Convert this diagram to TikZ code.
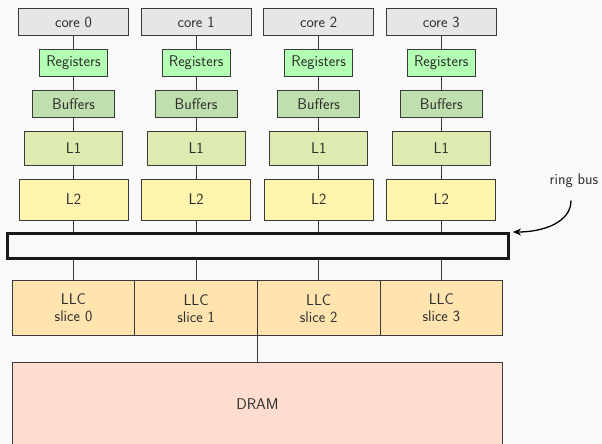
\documentclass[tikz,border=0pt]{standalone}
\usepackage{fontspec}
\usetikzlibrary{arrows.meta}
\definecolor{bg}{HTML}{F9F9F9}
\definecolor{edge}{HTML}{3A3A3A}
\definecolor{ink}{HTML}{2E2E2E}
\definecolor{coreC}{HTML}{E6E6E6}
\definecolor{regC}{HTML}{B3FFB3}
\definecolor{bufC}{HTML}{C0DFAE}
\definecolor{loneC}{HTML}{DDEAB0}
\definecolor{ltwoC}{HTML}{FFF5AE}
\definecolor{llcC}{HTML}{FFE4B0}
\definecolor{dramC}{HTML}{FFDDCE}
\begin{document}
\begin{tikzpicture}[x=1pt,y=-1pt,
  box/.style={draw=edge, line width=0.8pt, inner sep=0pt, text=ink,
    font=\sffamily\fontsize{15.5}{17}\selectfont, align=center},
  link/.style={draw=edge, line width=0.8pt},
  lbl/.style={text=ink, font=\sffamily\fontsize{15.5}{17}\selectfont}]
\useasboundingbox (0,0) rectangle (602,444);
\fill[bg] (0,0) rectangle (602,444);

% ring bus shared by all cores
\node[draw=black!90, line width=3pt, minimum width=501pt, minimum height=25pt, inner sep=0pt] (ring) at (258,246) {};

% main memory
\node[box, fill=dramC, minimum width=490.7pt, minimum height=83pt] (dram) at (257.4,404) {DRAM};

% one column per core, with its LLC slice below the ring
\foreach \i in {0,1,2,3} {
  \pgfmathsetmacro{\cx}{73.5+122.6*\i}
  \node[box, fill=coreC, minimum width=110pt, minimum height=27.5pt] (core\i) at (\cx,22) {core \i};
  \node[box, fill=regC, minimum width=68pt, minimum height=27.5pt] (reg\i) at (\cx,63) {Registers};
  \node[box, fill=bufC, minimum width=82pt, minimum height=27.5pt] (buf\i) at (\cx,104) {Buffers};
  \node[box, fill=loneC, minimum width=98pt, minimum height=34pt] (lone\i) at (\cx,148) {L1};
  \node[box, fill=ltwoC, minimum width=109pt, minimum height=41pt] (ltwo\i) at (\cx,199.5) {L2};
  \node[box, fill=llcC, minimum width=122.6pt, minimum height=55pt] (llc\i) at (\cx,308.2) {LLC\\slice \i};
  \draw[link] (core\i) -- (reg\i);
  \draw[link] (reg\i) -- (buf\i);
  \draw[link] (buf\i) -- (lone\i);
  \draw[link] (lone\i) -- (ltwo\i);
  \draw[link] (ltwo\i.south) -- (ltwo\i.south |- ring.north);
  \draw[link] (llc\i.north |- ring.south) -- (llc\i.north);
}

% LLC to DRAM
\draw[link] (llc1.south east) -- (llc1.south east |- dram.north);

% ring bus label
\node[lbl] (rblabel) at (574,181) {ring bus};
\draw[line width=1.3pt, -{Stealth[length=8pt,width=7pt]}]
  ([shift={(-3,9)}]rblabel.south) .. controls +(0,22) and +(30,0) .. ([shift={(3,0)}]ring.north east);
\end{tikzpicture}
\end{document}
